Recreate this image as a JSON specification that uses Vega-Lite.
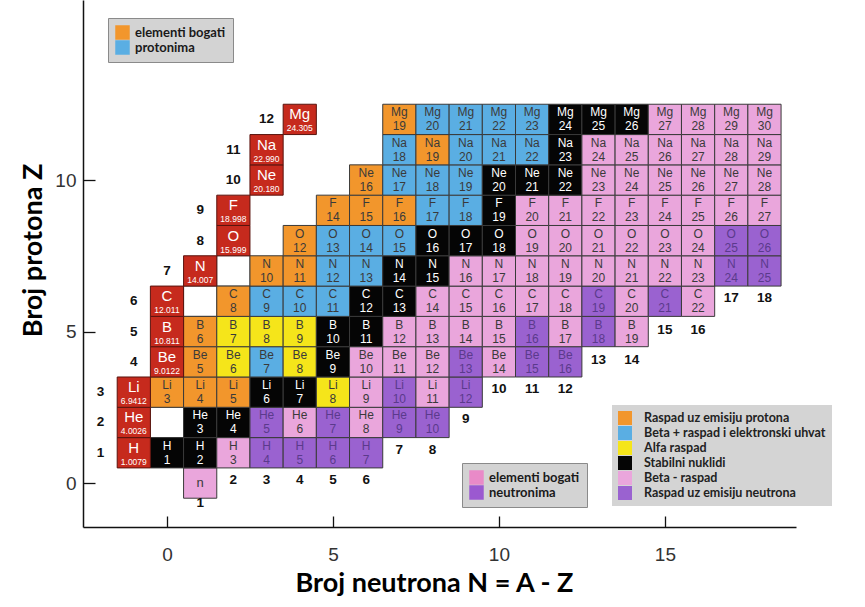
{
  "$schema": "https://vega.github.io/schema/vega-lite/v6.json",
  "width": 713,
  "height": 527,
  "autosize": {"type": "none"},
  "padding": {"left": 83, "top": 0, "right": 69, "bottom": 80},
  "background": "white",
  "config": {"view": {"stroke": null}, "font": "Liberation Sans"},
  "datasets": {
    "nuc": [
      {"N":1,"Z":0,"el":"n","d":"b-"},
      {"N":0,"Z":1,"el":"H","A":1,"d":"s"},{"N":1,"Z":1,"el":"H","A":2,"d":"s"},{"N":2,"Z":1,"el":"H","A":3,"d":"b-"},{"N":3,"Z":1,"el":"H","A":4,"d":"n"},{"N":4,"Z":1,"el":"H","A":5,"d":"n"},{"N":5,"Z":1,"el":"H","A":6,"d":"n"},{"N":6,"Z":1,"el":"H","A":7,"d":"n"},
      {"N":1,"Z":2,"el":"He","A":3,"d":"s"},{"N":2,"Z":2,"el":"He","A":4,"d":"s"},{"N":3,"Z":2,"el":"He","A":5,"d":"n"},{"N":4,"Z":2,"el":"He","A":6,"d":"b-"},{"N":5,"Z":2,"el":"He","A":7,"d":"n"},{"N":6,"Z":2,"el":"He","A":8,"d":"b-"},{"N":7,"Z":2,"el":"He","A":9,"d":"n"},{"N":8,"Z":2,"el":"He","A":10,"d":"n"},
      {"N":0,"Z":3,"el":"Li","A":3,"d":"p"},{"N":1,"Z":3,"el":"Li","A":4,"d":"p"},{"N":2,"Z":3,"el":"Li","A":5,"d":"p"},{"N":3,"Z":3,"el":"Li","A":6,"d":"s"},{"N":4,"Z":3,"el":"Li","A":7,"d":"s"},{"N":5,"Z":3,"el":"Li","A":8,"d":"a"},{"N":6,"Z":3,"el":"Li","A":9,"d":"b-"},{"N":7,"Z":3,"el":"Li","A":10,"d":"n"},{"N":8,"Z":3,"el":"Li","A":11,"d":"b-"},{"N":9,"Z":3,"el":"Li","A":12,"d":"n"},
      {"N":1,"Z":4,"el":"Be","A":5,"d":"p"},{"N":2,"Z":4,"el":"Be","A":6,"d":"a"},{"N":3,"Z":4,"el":"Be","A":7,"d":"b+"},{"N":4,"Z":4,"el":"Be","A":8,"d":"a"},{"N":5,"Z":4,"el":"Be","A":9,"d":"s"},{"N":6,"Z":4,"el":"Be","A":10,"d":"b-"},{"N":7,"Z":4,"el":"Be","A":11,"d":"b-"},{"N":8,"Z":4,"el":"Be","A":12,"d":"b-"},{"N":9,"Z":4,"el":"Be","A":13,"d":"n"},{"N":10,"Z":4,"el":"Be","A":14,"d":"b-"},{"N":11,"Z":4,"el":"Be","A":15,"d":"n"},{"N":12,"Z":4,"el":"Be","A":16,"d":"n"},
      {"N":1,"Z":5,"el":"B","A":6,"d":"p"},{"N":2,"Z":5,"el":"B","A":7,"d":"a"},{"N":3,"Z":5,"el":"B","A":8,"d":"a"},{"N":4,"Z":5,"el":"B","A":9,"d":"a"},{"N":5,"Z":5,"el":"B","A":10,"d":"s"},{"N":6,"Z":5,"el":"B","A":11,"d":"s"},{"N":7,"Z":5,"el":"B","A":12,"d":"b-"},{"N":8,"Z":5,"el":"B","A":13,"d":"b-"},{"N":9,"Z":5,"el":"B","A":14,"d":"b-"},{"N":10,"Z":5,"el":"B","A":15,"d":"b-"},{"N":11,"Z":5,"el":"B","A":16,"d":"n"},{"N":12,"Z":5,"el":"B","A":17,"d":"b-"},{"N":13,"Z":5,"el":"B","A":18,"d":"n"},{"N":14,"Z":5,"el":"B","A":19,"d":"b-"},
      {"N":2,"Z":6,"el":"C","A":8,"d":"p"},{"N":3,"Z":6,"el":"C","A":9,"d":"b+"},{"N":4,"Z":6,"el":"C","A":10,"d":"b+"},{"N":5,"Z":6,"el":"C","A":11,"d":"b+"},{"N":6,"Z":6,"el":"C","A":12,"d":"s"},{"N":7,"Z":6,"el":"C","A":13,"d":"s"},{"N":8,"Z":6,"el":"C","A":14,"d":"b-"},{"N":9,"Z":6,"el":"C","A":15,"d":"b-"},{"N":10,"Z":6,"el":"C","A":16,"d":"b-"},{"N":11,"Z":6,"el":"C","A":17,"d":"b-"},{"N":12,"Z":6,"el":"C","A":18,"d":"b-"},{"N":13,"Z":6,"el":"C","A":19,"d":"n"},{"N":14,"Z":6,"el":"C","A":20,"d":"b-"},{"N":15,"Z":6,"el":"C","A":21,"d":"n"},{"N":16,"Z":6,"el":"C","A":22,"d":"b-"},
      {"N":3,"Z":7,"el":"N","A":10,"d":"p"},{"N":4,"Z":7,"el":"N","A":11,"d":"p"},{"N":5,"Z":7,"el":"N","A":12,"d":"b+"},{"N":6,"Z":7,"el":"N","A":13,"d":"b+"},{"N":7,"Z":7,"el":"N","A":14,"d":"s"},{"N":8,"Z":7,"el":"N","A":15,"d":"s"},{"N":9,"Z":7,"el":"N","A":16,"d":"b-"},{"N":10,"Z":7,"el":"N","A":17,"d":"b-"},{"N":11,"Z":7,"el":"N","A":18,"d":"b-"},{"N":12,"Z":7,"el":"N","A":19,"d":"b-"},{"N":13,"Z":7,"el":"N","A":20,"d":"b-"},{"N":14,"Z":7,"el":"N","A":21,"d":"b-"},{"N":15,"Z":7,"el":"N","A":22,"d":"b-"},{"N":16,"Z":7,"el":"N","A":23,"d":"b-"},{"N":17,"Z":7,"el":"N","A":24,"d":"n"},{"N":18,"Z":7,"el":"N","A":25,"d":"n"},
      {"N":4,"Z":8,"el":"O","A":12,"d":"p"},{"N":5,"Z":8,"el":"O","A":13,"d":"b+"},{"N":6,"Z":8,"el":"O","A":14,"d":"b+"},{"N":7,"Z":8,"el":"O","A":15,"d":"b+"},{"N":8,"Z":8,"el":"O","A":16,"d":"s"},{"N":9,"Z":8,"el":"O","A":17,"d":"s"},{"N":10,"Z":8,"el":"O","A":18,"d":"s"},{"N":11,"Z":8,"el":"O","A":19,"d":"b-"},{"N":12,"Z":8,"el":"O","A":20,"d":"b-"},{"N":13,"Z":8,"el":"O","A":21,"d":"b-"},{"N":14,"Z":8,"el":"O","A":22,"d":"b-"},{"N":15,"Z":8,"el":"O","A":23,"d":"b-"},{"N":16,"Z":8,"el":"O","A":24,"d":"b-"},{"N":17,"Z":8,"el":"O","A":25,"d":"n"},{"N":18,"Z":8,"el":"O","A":26,"d":"n"},
      {"N":5,"Z":9,"el":"F","A":14,"d":"p"},{"N":6,"Z":9,"el":"F","A":15,"d":"p"},{"N":7,"Z":9,"el":"F","A":16,"d":"p"},{"N":8,"Z":9,"el":"F","A":17,"d":"b+"},{"N":9,"Z":9,"el":"F","A":18,"d":"b+"},{"N":10,"Z":9,"el":"F","A":19,"d":"s"},{"N":11,"Z":9,"el":"F","A":20,"d":"b-"},{"N":12,"Z":9,"el":"F","A":21,"d":"b-"},{"N":13,"Z":9,"el":"F","A":22,"d":"b-"},{"N":14,"Z":9,"el":"F","A":23,"d":"b-"},{"N":15,"Z":9,"el":"F","A":24,"d":"b-"},{"N":16,"Z":9,"el":"F","A":25,"d":"b-"},{"N":17,"Z":9,"el":"F","A":26,"d":"b-"},{"N":18,"Z":9,"el":"F","A":27,"d":"b-"},
      {"N":6,"Z":10,"el":"Ne","A":16,"d":"p"},{"N":7,"Z":10,"el":"Ne","A":17,"d":"b+"},{"N":8,"Z":10,"el":"Ne","A":18,"d":"b+"},{"N":9,"Z":10,"el":"Ne","A":19,"d":"b+"},{"N":10,"Z":10,"el":"Ne","A":20,"d":"s"},{"N":11,"Z":10,"el":"Ne","A":21,"d":"s"},{"N":12,"Z":10,"el":"Ne","A":22,"d":"s"},{"N":13,"Z":10,"el":"Ne","A":23,"d":"b-"},{"N":14,"Z":10,"el":"Ne","A":24,"d":"b-"},{"N":15,"Z":10,"el":"Ne","A":25,"d":"b-"},{"N":16,"Z":10,"el":"Ne","A":26,"d":"b-"},{"N":17,"Z":10,"el":"Ne","A":27,"d":"b-"},{"N":18,"Z":10,"el":"Ne","A":28,"d":"b-"},
      {"N":7,"Z":11,"el":"Na","A":18,"d":"b+"},{"N":8,"Z":11,"el":"Na","A":19,"d":"p"},{"N":9,"Z":11,"el":"Na","A":20,"d":"b+"},{"N":10,"Z":11,"el":"Na","A":21,"d":"b+"},{"N":11,"Z":11,"el":"Na","A":22,"d":"b+"},{"N":12,"Z":11,"el":"Na","A":23,"d":"s"},{"N":13,"Z":11,"el":"Na","A":24,"d":"b-"},{"N":14,"Z":11,"el":"Na","A":25,"d":"b-"},{"N":15,"Z":11,"el":"Na","A":26,"d":"b-"},{"N":16,"Z":11,"el":"Na","A":27,"d":"b-"},{"N":17,"Z":11,"el":"Na","A":28,"d":"b-"},{"N":18,"Z":11,"el":"Na","A":29,"d":"b-"},
      {"N":7,"Z":12,"el":"Mg","A":19,"d":"p"},{"N":8,"Z":12,"el":"Mg","A":20,"d":"b+"},{"N":9,"Z":12,"el":"Mg","A":21,"d":"b+"},{"N":10,"Z":12,"el":"Mg","A":22,"d":"b+"},{"N":11,"Z":12,"el":"Mg","A":23,"d":"b+"},{"N":12,"Z":12,"el":"Mg","A":24,"d":"s"},{"N":13,"Z":12,"el":"Mg","A":25,"d":"s"},{"N":14,"Z":12,"el":"Mg","A":26,"d":"s"},{"N":15,"Z":12,"el":"Mg","A":27,"d":"b-"},{"N":16,"Z":12,"el":"Mg","A":28,"d":"b-"},{"N":17,"Z":12,"el":"Mg","A":29,"d":"b-"},{"N":18,"Z":12,"el":"Mg","A":30,"d":"b-"}
    ],
    "elem": [
      {"N":-1,"Z":1,"el":"H","w":"1.0079"},{"N":-1,"Z":2,"el":"He","w":"4.0026"},{"N":-1,"Z":3,"el":"Li","w":"6.9412"},
      {"N":0,"Z":4,"el":"Be","w":"9.0122"},{"N":0,"Z":5,"el":"B","w":"10.811"},{"N":0,"Z":6,"el":"C","w":"12.011"},
      {"N":1,"Z":7,"el":"N","w":"14.007"},{"N":2,"Z":8,"el":"O","w":"15.999"},{"N":2,"Z":9,"el":"F","w":"18.998"},
      {"N":3,"Z":10,"el":"Ne","w":"20.180"},{"N":3,"Z":11,"el":"Na","w":"22.990"},{"N":4,"Z":12,"el":"Mg","w":"24.305"}
    ],
    "blank": [{"N":0,"Z":2},{"N":1,"Z":6},{"N":2,"Z":7}],
    "labels": [
      {"N":-2,"Z":1,"t":"1"},{"N":-2,"Z":2,"t":"2"},{"N":-2,"Z":3,"t":"3"},{"N":-1,"Z":4,"t":"4"},{"N":-1,"Z":5,"t":"5"},{"N":-1,"Z":6,"t":"6"},
      {"N":0,"Z":7,"t":"7"},{"N":1,"Z":8,"t":"8"},{"N":1,"Z":9,"t":"9"},{"N":2,"Z":10,"t":"10"},{"N":2,"Z":11,"t":"11"},{"N":3,"Z":12,"t":"12"},
      {"N":1,"Z":-0.65,"t":"1"},{"N":2,"Z":0.1,"t":"2"},{"N":3,"Z":0.1,"t":"3"},{"N":4,"Z":0.1,"t":"4"},{"N":5,"Z":0.1,"t":"5"},{"N":6,"Z":0.1,"t":"6"},
      {"N":7,"Z":1.1,"t":"7"},{"N":8,"Z":1.1,"t":"8"},{"N":9,"Z":2.1,"t":"9"},{"N":10,"Z":3.1,"t":"10"},{"N":11,"Z":3.1,"t":"11"},{"N":12,"Z":3.1,"t":"12"},
      {"N":13,"Z":4.05,"t":"13"},{"N":14,"Z":4.05,"t":"14"},{"N":15,"Z":5.05,"t":"15"},{"N":16,"Z":5.05,"t":"16"},{"N":17,"Z":6.1,"t":"17"},{"N":18,"Z":6.1,"t":"18"}
    ],
    "legP": [{"k":"elementi bogati"},{"k":"protonima"}],
    "legN": [{"k":"elementi bogati"},{"k":"neutronima"}]
  },
  "layer": [
    {
      "data": {"name": "blank"},
      "mark": {"type": "point", "shape": "M-1,-0.913L1,-0.913L1,0.913L-1,0.913Z", "size": 1102, "filled": true, "fill": "white", "stroke": "#555555", "strokeWidth": 1, "opacity": 1},
      "encoding": {
        "x": {"field": "N", "type": "quantitative", "scale": {"domain": [-2.53, 18.95], "nice": false, "zero": false},
          "axis": {"title": "Broj neutrona N = A - Z", "values": [0, 5, 10, 15], "grid": false, "domainColor": "#111111", "domainWidth": 1.5, "tickColor": "#111111", "tickWidth": 1.3, "tickSize": -11, "labelPadding": 29, "labelFont": "Liberation Sans", "labelFontSize": 19, "labelColor": "#333333", "labelFlush": false, "titleFont": "Lato", "titleFontSize": 27, "titleFontWeight": "bold", "titleColor": "#000000", "titleX": 351, "titleY": 56, "titleBaseline": "middle", "titleAlign": "center"}},
        "y": {"field": "Z", "type": "quantitative", "scale": {"domain": [-1.45, 15.94], "nice": false, "zero": false},
          "axis": {"title": "Broj protona Z", "values": [0, 5, 10], "grid": false, "domainColor": "#111111", "domainWidth": 1.5, "tickColor": "#111111", "tickWidth": 1.3, "tickSize": -12, "labelPadding": 19, "labelFont": "Liberation Sans", "labelFontSize": 19, "labelColor": "#333333", "labelFlush": false, "titleFont": "Lato", "titleFontSize": 27, "titleFontWeight": "bold", "titleColor": "#000000", "titleX": -50, "titleY": 250, "titleAngle": -90, "titleBaseline": "middle", "titleAlign": "center"}}
      }
    },
    {
      "data": {"name": "nuc"},
      "mark": {"type": "point", "shape": "M-1,-0.913L1,-0.913L1,0.913L-1,0.913Z", "size": 1102, "filled": true, "stroke": "#3a3a3a", "strokeWidth": 1, "opacity": 1},
      "encoding": {
        "x": {"field": "N", "type": "quantitative"},
        "y": {"field": "Z", "type": "quantitative"},
        "color": {"field": "d", "type": "nominal",
          "scale": {"domain": ["p", "b+", "a", "s", "b-", "n"], "range": ["#F2962C", "#5AAEE3", "#F5E51A", "#050505", "#EAA6DC", "#9A62D0"]},
          "legend": {"orient": "none", "legendX": 529, "legendY": 405, "direction": "vertical", "title": null, "fillColor": "#d4d4d4", "padding": 6, "symbolType": "square", "symbolSize": 196, "symbolStrokeWidth": 0, "symbolOpacity": 1, "labelFont": "Lato", "labelFontWeight": "bold", "labelFontSize": 12.5, "labelColor": "#222222", "labelLimit": 300, "rowPadding": 1, "labelOffset": 12,
            "labelExpr": "datum.value === 'p' ? 'Raspad uz emisiju protona' : datum.value === 'b+' ? 'Beta + raspad i elektronski uhvat' : datum.value === 'a' ? 'Alfa raspad' : datum.value === 's' ? 'Stabilni nuklidi' : datum.value === 'b-' ? 'Beta - raspad' : 'Raspad uz emisiju neutrona'"}}
      }
    },
    {
      "data": {"name": "nuc"},
      "transform": [{"filter": "datum.Z > 0"}],
      "mark": {"type": "text", "font": "Liberation Sans", "fontSize": 12, "dy": -7},
      "encoding": {
        "x": {"field": "N", "type": "quantitative"},
        "y": {"field": "Z", "type": "quantitative"},
        "text": {"field": "el", "type": "nominal"},
        "color": {"condition": [{"test": "datum.d === 's'", "value": "#ffffff"}, {"test": "datum.d === 'n'", "value": "#5b3a8c"}], "value": "#3a3a3a"}
      }
    },
    {
      "data": {"name": "nuc"},
      "transform": [{"filter": "datum.Z > 0"}],
      "mark": {"type": "text", "font": "Liberation Sans", "fontSize": 12, "dy": 7},
      "encoding": {
        "x": {"field": "N", "type": "quantitative"},
        "y": {"field": "Z", "type": "quantitative"},
        "text": {"field": "A", "type": "nominal"},
        "color": {"condition": [{"test": "datum.d === 's'", "value": "#ffffff"}, {"test": "datum.d === 'n'", "value": "#5b3a8c"}], "value": "#3a3a3a"}
      }
    },
    {
      "data": {"name": "nuc"},
      "transform": [{"filter": "datum.Z == 0"}],
      "mark": {"type": "text", "font": "Liberation Sans", "fontSize": 13, "color": "#3a3a3a"},
      "encoding": {
        "x": {"field": "N", "type": "quantitative"},
        "y": {"field": "Z", "type": "quantitative"},
        "text": {"field": "el", "type": "nominal"}
      }
    },
    {
      "data": {"name": "elem"},
      "mark": {"type": "point", "shape": "M-1,-0.913L1,-0.913L1,0.913L-1,0.913Z", "size": 1102, "filled": true, "fill": "#C62A1D", "stroke": "#5a140e", "strokeWidth": 1, "opacity": 1},
      "encoding": {
        "x": {"field": "N", "type": "quantitative"},
        "y": {"field": "Z", "type": "quantitative"}
      }
    },
    {
      "data": {"name": "elem"},
      "mark": {"type": "text", "font": "Liberation Sans", "fontSize": 15, "dy": -5, "color": "#ffffff"},
      "encoding": {
        "x": {"field": "N", "type": "quantitative"},
        "y": {"field": "Z", "type": "quantitative"},
        "text": {"field": "el", "type": "nominal"}
      }
    },
    {
      "data": {"name": "elem"},
      "mark": {"type": "text", "font": "Liberation Sans", "fontSize": 8.5, "dy": 9, "color": "#ffffff"},
      "encoding": {
        "x": {"field": "N", "type": "quantitative"},
        "y": {"field": "Z", "type": "quantitative"},
        "text": {"field": "w", "type": "nominal"}
      }
    },
    {
      "data": {"name": "labels"},
      "mark": {"type": "text", "font": "Liberation Sans", "fontSize": 13.5, "fontWeight": "bold", "color": "#111111"},
      "encoding": {
        "x": {"field": "N", "type": "quantitative"},
        "y": {"field": "Z", "type": "quantitative"},
        "text": {"field": "t", "type": "nominal"}
      }
    },
    {
      "mark": {"type": "rect", "color": "#000000"},
      "encoding": {
        "x": {"datum": 12.8, "type": "quantitative"},
        "x2": {"datum": 15.09},
        "y": {"datum": 15.54, "type": "quantitative"},
        "y2": {"datum": 13.56}
      }
    },
    {
      "mark": {"type": "text", "text": ["Stabilni", "nuklidi"], "font": "Lato", "fontWeight": "bold", "fontSize": 17, "color": "#ffffff", "align": "left", "baseline": "middle", "lineHeight": 25},
      "encoding": {
        "x": {"datum": 13.1, "type": "quantitative"},
        "y": {"datum": 14.55, "type": "quantitative"}
      }
    },
    {
      "mark": {"type": "rule", "color": "#000000", "strokeWidth": 2},
      "encoding": {
        "x": {"datum": 14.28, "type": "quantitative"},
        "y": {"datum": 13.3, "type": "quantitative"},
        "x2": {"datum": 13.33},
        "y2": {"datum": 12.65}
      }
    },
    {
      "mark": {"type": "point", "shape": "triangle-up", "size": 55, "filled": true, "color": "#000000", "opacity": 1, "angle": 237},
      "encoding": {
        "x": {"datum": 13.3, "type": "quantitative"},
        "y": {"datum": 12.63, "type": "quantitative"}
      }
    },
    {
      "mark": {"type": "point", "shape": "triangle-right", "size": 70, "filled": true, "color": "#111111", "opacity": 1},
      "encoding": {
        "x": {"datum": 18.9, "type": "quantitative"},
        "y": {"datum": -1.45, "type": "quantitative"}
      }
    },
    {
      "data": {"name": "legP"},
      "mark": {"type": "point", "filled": true, "opacity": 0},
      "encoding": {
        "color": {"field": "k", "type": "nominal",
          "scale": {"domain": ["elementi bogati", "protonima"], "range": ["#F2962C", "#5AAEE3"]},
          "legend": {"orient": "none", "legendX": 25, "legendY": 18, "direction": "vertical", "title": null, "fillColor": "#d3d3d3", "strokeColor": "#8a8a8a", "padding": 7, "symbolType": "square", "symbolSize": 210, "symbolStrokeWidth": 0, "symbolOpacity": 1, "labelFont": "Lato", "labelFontWeight": "bold", "labelFontSize": 13, "labelColor": "#1a1a1a", "rowPadding": 0, "labelOffset": 5}}
      }
    },
    {
      "data": {"name": "legN"},
      "mark": {"type": "point", "filled": true, "opacity": 0},
      "encoding": {
        "color": {"field": "k", "type": "nominal",
          "scale": {"domain": ["elementi bogati", "neutronima"], "range": ["#E98AC8", "#9B59D0"]},
          "legend": {"orient": "none", "legendX": 379, "legendY": 463, "direction": "vertical", "title": null, "fillColor": "#d3d3d3", "strokeColor": "#8a8a8a", "padding": 7, "symbolType": "square", "symbolSize": 210, "symbolStrokeWidth": 0, "symbolOpacity": 1, "labelFont": "Lato", "labelFontWeight": "bold", "labelFontSize": 13, "labelColor": "#1a1a1a", "rowPadding": 0, "labelOffset": 5}}
      }
    }
  ],
  "resolve": {"scale": {"color": "independent"}}
}
